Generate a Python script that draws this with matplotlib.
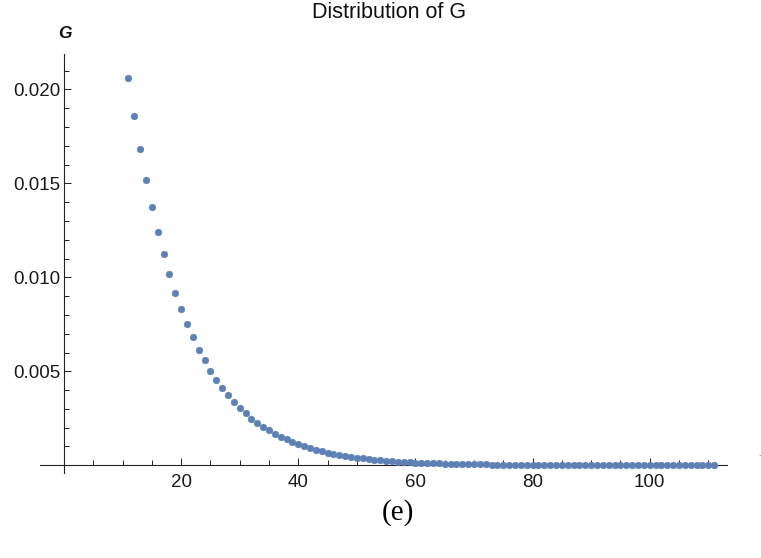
import matplotlib
matplotlib.use("Agg")
import matplotlib.pyplot as plt
from matplotlib.ticker import FixedLocator, MultipleLocator, FormatStrFormatter
import numpy as np

# Support of the distribution
k_values = list(range(11, 112))

# Probability of each value (units of 1e-3)
g_milli = [
    20.59, 18.60, 16.82, 15.19, 13.74, 12.43, 11.24, 10.16, 9.18, 8.31,
    7.52, 6.81, 6.15, 5.58, 5.03, 4.55, 4.13, 3.72, 3.37, 3.05,
    2.77, 2.48, 2.25, 2.05, 1.86, 1.68, 1.52, 1.38, 1.24, 1.12,
    1.02, 0.92, 0.83, 0.75, 0.68, 0.61, 0.55, 0.50, 0.45, 0.41,
    0.37, 0.33, 0.30, 0.27, 0.245, 0.22, 0.20, 0.18, 0.163, 0.147,
    0.133, 0.120, 0.108, 0.098, 0.089, 0.080, 0.072, 0.065, 0.059, 0.053,
    0.048, 0.044, 0.040, 0.036, 0.032, 0.029, 0.026, 0.024, 0.021, 0.019,
    0.017, 0.016, 0.014, 0.013, 0.012, 0.011, 0.0095, 0.0086, 0.0078, 0.0070,
    0.0063, 0.0057, 0.0052, 0.0047, 0.0042, 0.0038, 0.0034, 0.0031, 0.0028, 0.0025,
    0.0023, 0.0021, 0.0019, 0.0017, 0.0015, 0.0014, 0.0012, 0.0011, 0.0010, 0.0009,
    0.0008,
]
g_values = [v * 1e-3 for v in g_milli]

x_major = [20, 40, 60, 80, 100]
y_major = [0.005, 0.010, 0.015, 0.020]

point_color = "#5E81B5"
axis_color = "#222222"

plt.rcParams["font.family"] = ["Liberation Sans", "DejaVu Sans"]

fig = plt.figure(figsize=(7.61, 5.58), dpi=100)
ax = fig.add_axes([40 / 761, 1 - 473 / 558, 687 / 761, (473 - 54) / 558])

ax.plot(k_values, g_values, linestyle="none", marker="o", markersize=4.9,
        markerfacecolor=point_color, markeredgecolor=point_color,
        markeredgewidth=0.3, clip_on=False, zorder=3)

ax.set_xlim(-4.1, 113.2)
ax.set_ylim(-0.00041, 0.02188)

# Axes crossing at the origin
for side in ("top", "right"):
    ax.spines[side].set_visible(False)
ax.spines["left"].set_position(("data", 0))
ax.spines["bottom"].set_position(("data", 0))
for side in ("left", "bottom"):
    ax.spines[side].set_color(axis_color)
    ax.spines[side].set_linewidth(0.8)

ax.xaxis.set_major_locator(FixedLocator(x_major))
ax.xaxis.set_minor_locator(MultipleLocator(5))
ax.yaxis.set_major_locator(FixedLocator(y_major))
ax.yaxis.set_minor_locator(MultipleLocator(0.001))
ax.yaxis.set_major_formatter(FormatStrFormatter("%.3f"))

ax.tick_params(which="both", direction="in", color=axis_color, width=0.7,
               labelsize=13.5, labelcolor="#1a1a1a")
ax.tick_params(which="major", length=5.2)
ax.tick_params(which="minor", length=3.3)
ax.tick_params(axis="x", which="major", pad=6)
ax.tick_params(axis="y", which="major", pad=2.5)

fig.text(389 / 761, 1 - 18.5 / 558, "Distribution of G", ha="center",
         va="baseline", fontsize=15.5, color="#111111")
fig.text(65 / 761, 1 - 33 / 558, "G", ha="center", va="center",
         fontsize=12.5, fontweight="bold", fontstyle="italic", color="#111111")
fig.text(398 / 761, 1 - 513 / 558, "(e)", ha="center", va="center",
         fontsize=21, family=["Liberation Serif", "DejaVu Serif"], color="black")
fig.text(759 / 761, 1 - 456 / 558, ".", ha="center", va="baseline",
         fontsize=6, color="#333333")

fig.savefig("out.png", dpi=100)
